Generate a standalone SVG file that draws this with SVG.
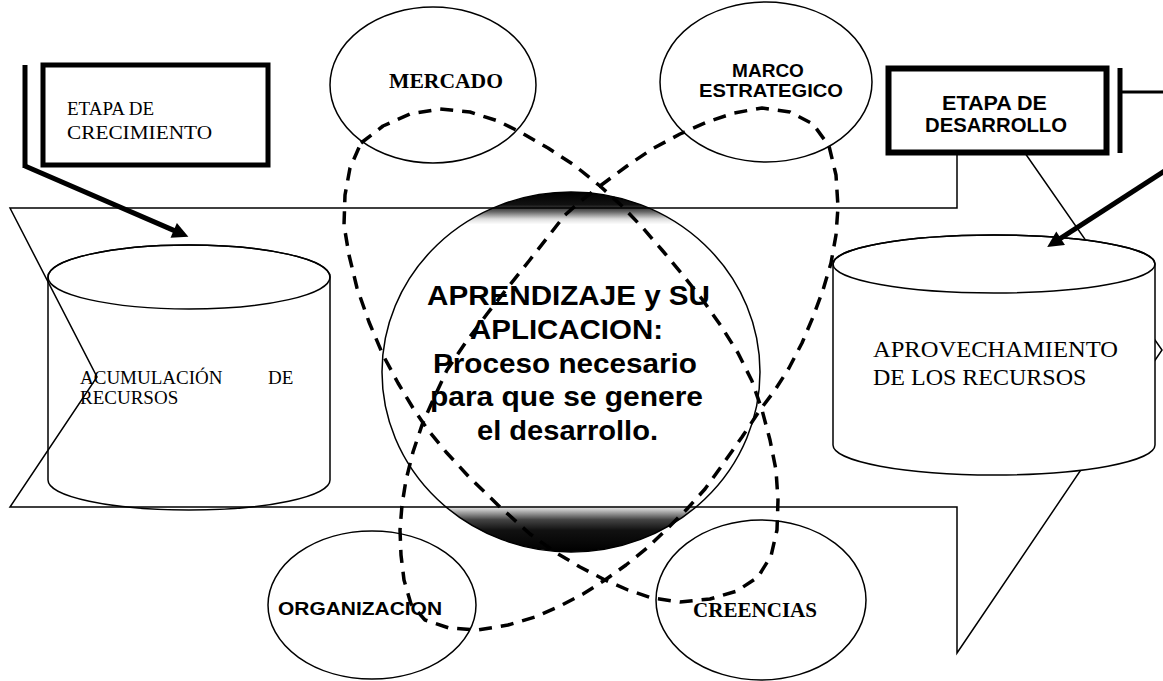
<svg xmlns="http://www.w3.org/2000/svg" width="1163" height="681" viewBox="0 0 1163 681">
<style>
.thin{fill:none;stroke:#000;stroke-width:1.5}
.wfill{fill:#fff;stroke:#000;stroke-width:1.5}
.thick{fill:#fff;stroke:#000}
.dash{fill:none;stroke:#000;stroke-width:3.5;stroke-dasharray:13 9;stroke-linejoin:round}
.serif{font-family:"Liberation Serif","Times New Roman",serif;fill:#000}
.sans{font-family:"Liberation Sans",Arial,sans-serif;fill:#000}
</style>
<defs>
<marker id="ah" viewBox="0 0 10 10" refX="3.6" refY="5" markerWidth="22" markerHeight="16" markerUnits="userSpaceOnUse" orient="auto">
<path d="M0,0 L10,5 L0,10 z" fill="#000"/>
</marker>
<linearGradient id="shade" x1="0" y1="0" x2="0" y2="1">
<stop offset="0" stop-color="#000"/>
<stop offset="0.035" stop-color="#111"/>
<stop offset="0.055" stop-color="#666"/>
<stop offset="0.075" stop-color="#ddd"/>
<stop offset="0.09" stop-color="#fff"/>
<stop offset="0.87" stop-color="#fff"/>
<stop offset="0.885" stop-color="#bbb"/>
<stop offset="0.91" stop-color="#444"/>
<stop offset="0.94" stop-color="#111"/>
<stop offset="1" stop-color="#000"/>
</linearGradient>
</defs>
<rect width="1163" height="681" fill="#fff"/>

<g id="acumulacion">
<path class="wfill" d="M48,277 V480 A141,30 0 0 0 330,480 V277 A141,32 0 0 0 48,277 Z"/>
<ellipse class="thin" cx="189" cy="277" rx="141" ry="32"/>
<text class="serif" font-size="19" y="384"><tspan x="80">ACUMULACIÓN</tspan><tspan x="268">DE</tspan></text>
<text class="serif" font-size="19" x="80" y="404">RECURSOS</text>
</g>

<g id="aprendizaje">
<ellipse cx="571" cy="372" rx="189" ry="180" fill="url(#shade)" stroke="#000" stroke-width="1.5"/>
</g>

<g id="banner">
<path class="thin" d="M10,208 L957,208 L957,110 L995,110 L1162,350 L957,653 L957,507 L10,507 L97,377 Z"/>
</g>

<g id="aprovechamiento">
<path class="wfill" d="M833,264 V445 A161,30 0 0 0 1155,445 V264 A161,29 0 0 0 833,264 Z"/>
<ellipse class="thin" cx="994" cy="264" rx="161" ry="29"/>
<text class="serif" font-size="24" x="873" y="357" textLength="245" lengthAdjust="spacingAndGlyphs">APROVECHAMIENTO</text>
<text class="serif" font-size="24" x="873" y="385">DE LOS RECURSOS</text>
</g>

<g id="mercado">
<ellipse class="wfill" cx="433" cy="85" rx="103" ry="78"/>
<text class="serif" font-size="20" font-weight="bold" x="389" y="88" textLength="114" lengthAdjust="spacingAndGlyphs">MERCADO</text>
</g>

<g id="marco">
<ellipse class="wfill" cx="766" cy="82" rx="106" ry="80"/>
<text class="sans" font-size="19" font-weight="bold" x="768" y="77" text-anchor="middle">MARCO</text>
<text class="sans" font-size="19" font-weight="bold" x="699" y="97" textLength="144" lengthAdjust="spacingAndGlyphs">ESTRATEGICO</text>
</g>

<g id="organizacion">
<ellipse class="wfill" cx="372" cy="605" rx="104" ry="74"/>
<text class="sans" font-size="19" font-weight="bold" x="278" y="615" textLength="164" lengthAdjust="spacingAndGlyphs">ORGANIZACION</text>
</g>

<g id="creencias">
<ellipse class="wfill" cx="761" cy="600" rx="105" ry="80"/>
<text class="serif" font-size="20" font-weight="bold" x="693" y="617" textLength="124" lengthAdjust="spacingAndGlyphs">CREENCIAS</text>
</g>

<g id="etapa-crecimiento">
<rect class="thick" x="43" y="65" width="225" height="100" stroke-width="5"/>
<line x1="25" y1="65" x2="25" y2="168" stroke="#000" stroke-width="5"/>
<text class="serif" font-size="19" x="67" y="115">ETAPA DE</text>
<text class="serif" font-size="19" x="67" y="139" textLength="145" lengthAdjust="spacingAndGlyphs">CRECIMIENTO</text>
</g>

<g id="etapa-desarrollo">
<rect class="thick" x="888.5" y="68.5" width="218" height="84" stroke-width="6"/>
<line x1="1120" y1="68" x2="1120" y2="153" stroke="#000" stroke-width="5"/>
<line x1="1120" y1="92" x2="1163" y2="92" stroke="#000" stroke-width="3"/>
<text class="sans" font-size="20" font-weight="bold" x="942" y="110" textLength="105" lengthAdjust="spacingAndGlyphs">ETAPA DE</text>
<text class="sans" font-size="20" font-weight="bold" x="925" y="132" textLength="142" lengthAdjust="spacingAndGlyphs">DESARROLLO</text>
</g>

<g id="aprendizaje-text" class="sans" font-size="27" font-weight="bold">
<text x="427" y="305" textLength="283" lengthAdjust="spacingAndGlyphs">APRENDIZAJE y SU</text>
<text x="470" y="339" textLength="193" lengthAdjust="spacingAndGlyphs">APLICACION:</text>
<text x="433" y="373" textLength="264" lengthAdjust="spacingAndGlyphs">Proceso necesario</text>
<text x="430" y="406" textLength="273" lengthAdjust="spacingAndGlyphs">para que se genere</text>
<text x="477" y="440" textLength="181" lengthAdjust="spacingAndGlyphs">el desarrollo.</text>
</g>

<g id="connectors">
<path class="dash" d="M361,143 L383,126 L410,114 L440,109 L470,112 L498,121 L522,133 L548,148 L574,165 L600,186 L622,206 L642,227 L662,250 L682,274 L702,299 L721,326 L738,353 L752,381 L762,410 L770,440 L776,470 L778,500 L777,530 L771,556 L758,577 L737,591 L710,599 L680,602 L652,598 L628,590 L605,580 L580,567 L555,552 L530,534 L500,507 L470,478 L446,452 L428,430 L413,408 L398,383 L383,355 L369,322 L357,288 L349,255 L344,225 L345,195 L350,168 Z"/>
<path class="dash" d="M600,186 L627,166 L652,149 L680,134 L707,122 L734,113 L762,108 L790,112 L813,124 L829,146 L836,175 L838,207 L836,235 L831,263 L823,290 L813,317 L802,343 L789,368 L775,390 L760,410 L742,437 L723,464 L705,489 L687,509 L667,529 L647,548 L626,565 L605,580 L583,594 L560,606 L535,617 L508,625 L478,630 L449,628 L425,620 L411,604 L404,580 L401,555 L400,530 L402,505 L406,480 L413,452 L422,425 L433,400 L447,370 L466,342 L487,314 L509,286 L529,261 L547,238 L565,215 L582,200 Z"/>
<line x1="25" y1="166" x2="179" y2="232.6" stroke="#000" stroke-width="5" marker-end="url(#ah)"/>
<line x1="1170" y1="167.5" x2="1055.8" y2="241.4" stroke="#000" stroke-width="5" marker-end="url(#ah)"/>
</g>
</svg>
